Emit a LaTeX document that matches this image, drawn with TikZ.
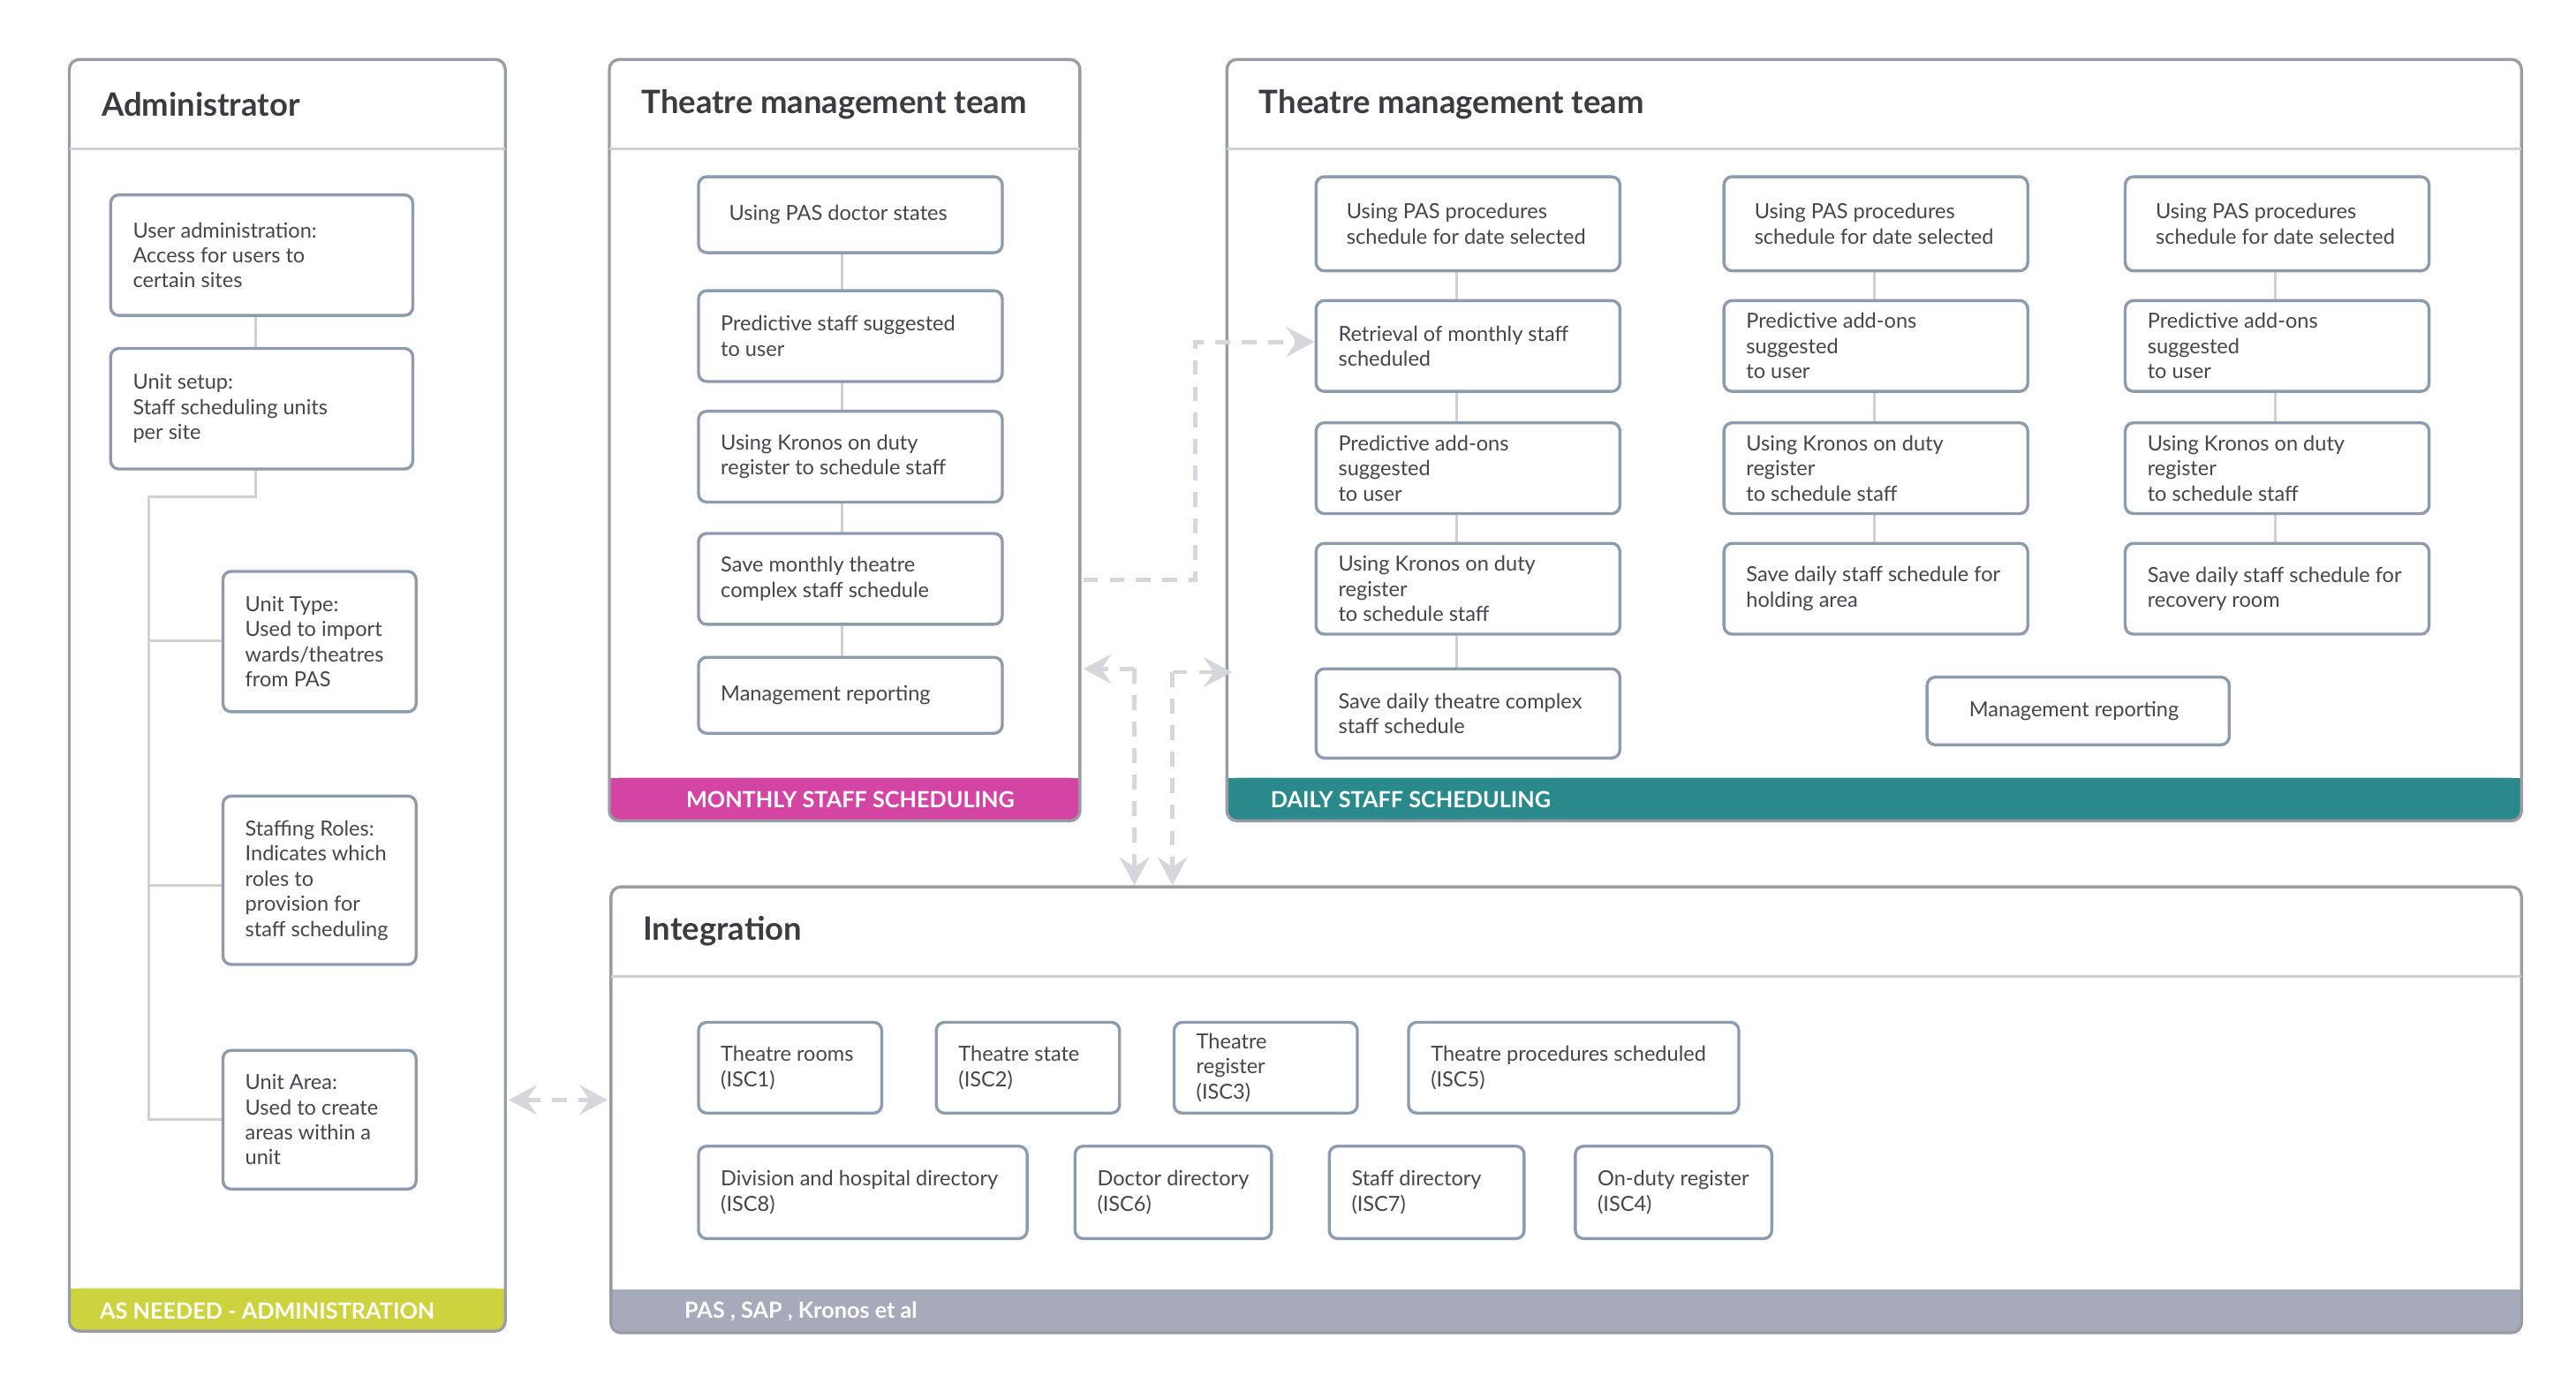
\documentclass[tikz,border=0pt]{standalone}
\usepackage{fontspec}
\setmainfont{Lato}
\usetikzlibrary{arrows.meta}
\definecolor{bxc}{HTML}{8C9BAE}
\definecolor{pan}{HTML}{9A9CA5}
\definecolor{txt}{HTML}{45464D}
\definecolor{dshc}{HTML}{D6D6DC}
\definecolor{lin}{HTML}{D0D1D6}
\definecolor{cyel}{HTML}{CCD33E}
\definecolor{cmag}{HTML}{D444A2}
\definecolor{ctea}{HTML}{2A898A}
\definecolor{cgry}{HTML}{A6AABA}
\tikzset{
 box/.style={draw=bxc,line width=1.8pt,rounded corners=5pt,fill=white,inner sep=0pt,text=txt,font=\fontsize{12.6}{15.2}\selectfont,align=left},
 conn/.style={lin,line width=1.6pt},
 dsh/.style={dshc,line width=2.6pt,dash pattern=on 9pt off 7pt},
 tip/.style={-{Stealth[length=17pt,width=18pt,inset=6pt]}},
 title/.style={anchor=west,font=\fontsize{19.5}{22}\selectfont\bfseries,text=txt!85!black},
 foot/.style={anchor=west,font=\fontsize{13.5}{15}\selectfont\bfseries,text=white},
}
\newcommand\bx[6]{%
 \pgfmathsetmacro\bw{#4-#2}\pgfmathsetmacro\bh{#5-#3}\pgfmathsetmacro\tw{#4-#2-27}%
 \node[box,minimum width=\bw pt,minimum height=\bh pt] (#1) at ({(#2+#4)/2},{(#3+#5)/2}) {\begin{minipage}{\tw pt}\raggedright #6\end{minipage}};}
\newcommand\panel[7]{% name x1 y1 x2 y2 color title
 \fill[#6,rounded corners=6pt] (#2,#5-26) rectangle (#4,#5);
 \fill[#6] (#2,#5-26) rectangle (#4,#5-16);
 \draw[pan,line width=1.8pt,rounded corners=6pt] (#2,#3) rectangle (#4,#5);
 \draw[lin,line width=1.6pt] (#2,#3+54) -- (#4,#3+54);
 \node[title] (#1) at (#2+16,#3+27) {#7};}
\begin{document}
\begin{tikzpicture}[x=1pt,y=-1pt]
\useasboundingbox (0,0) rectangle (1560,838);
% panels
\panel{pA}{42}{36}{306}{806}{cyel}{Administrator}
\node[foot] (fA) at (57,794) {AS NEEDED - ADMINISTRATION};
\panel{pB}{369}{36}{654}{497}{cmag}{Theatre management team}
\node[foot] (fB) at (412,484) {MONTHLY STAFF SCHEDULING};
\panel{pC}{743}{36}{1527}{497}{ctea}{Theatre management team}
\node[foot] (fC) at (766,484) {DAILY STAFF SCHEDULING};
\panel{pD}{370}{537}{1527}{807}{cgry}{Integration}
\node[foot] (fD) at (411,794) {PAS , SAP , Kronos et al};
% admin connectors
\coordinate (t0) at (155,301);
\coordinate (t1) at (90,301);
\coordinate (t2) at (90,388);
\coordinate (t3) at (90,536);
\coordinate (t4) at (90,678);
\draw[conn] (155,191) -- (155,211);
\draw[conn] (155,284) -- (t0) -- (t1) -- (t4) -- (135,678);
\draw[conn] (t2) -- (135,388);
\draw[conn] (t3) -- (135,536);
\draw[conn] (510,153) -- (510,398);
\draw[conn] (882,164) -- (882,405);
\draw[conn] (1135,164) -- (1135,329);
\draw[conn] (1378,164) -- (1378,329);
% admin boxes
\bx{a1}{67}{118}{250}{191}{User administration:\\Access for users to\\certain sites}
\bx{a2}{67}{211}{250}{284}{Unit setup:\\Staff scheduling units\\per site}
\bx{a3}{135}{346}{252}{431}{Unit Type:\\Used to import\\wards/theatres\\from PAS}
\bx{a4}{135}{482}{252}{584}{Staffing Roles:\\Indicates which\\roles to\\provision for\\staff scheduling}
\bx{a5}{135}{636}{252}{720}{Unit Area:\\Used to create\\areas within a\\unit}
% monthly
\bx{b1}{423}{107}{607}{153}{\hspace*{5pt}Using PAS doctor states}
\bx{b2}{423}{176}{607}{231}{Predictive staff suggested\\to user}
\bx{b3}{423}{249}{607}{304}{Using Kronos on duty\\register to schedule staff}
\bx{b4}{423}{323}{607}{378}{Save monthly theatre\\complex staff schedule}
\bx{b5}{423}{398}{607}{444}{Management reporting}
% daily
\bx{c1}{797}{107}{981}{164}{\hspace*{5pt}Using PAS procedures\\\hspace*{5pt}schedule for date selected}
\bx{c2}{797}{182}{981}{237}{Retrieval of monthly staff\\scheduled}
\bx{c3}{797}{256}{981}{311}{Predictive add-ons suggested\\to user}
\bx{c4}{797}{329}{981}{384}{Using Kronos on duty register\\to schedule staff}
\bx{c5}{797}{405}{981}{459}{Save daily theatre complex\\staff schedule}
\bx{d1}{1044}{107}{1228}{164}{\hspace*{5pt}Using PAS procedures\\\hspace*{5pt}schedule for date selected}
\bx{d2}{1044}{182}{1228}{237}{Predictive add-ons suggested\\to user}
\bx{d3}{1044}{256}{1228}{311}{Using Kronos on duty register\\to schedule staff}
\bx{d4}{1044}{329}{1228}{384}{Save daily staff schedule for\\holding area}
\bx{e1}{1287}{107}{1471}{164}{\hspace*{5pt}Using PAS procedures\\\hspace*{5pt}schedule for date selected}
\bx{e2}{1287}{182}{1471}{237}{Predictive add-ons suggested\\to user}
\bx{e3}{1287}{256}{1471}{311}{Using Kronos on duty register\\to schedule staff}
\bx{e4}{1287}{329}{1471}{384}{Save daily staff schedule for\\recovery room}
\bx{mr}{1167}{410}{1350}{451}{\hspace*{12pt}Management reporting}
% integration
\bx{i1}{423}{619}{534}{674}{Theatre rooms\\(ISC1)}
\bx{i2}{567}{619}{678}{674}{Theatre state\\(ISC2)}
\bx{i3}{711}{619}{822}{674}{Theatre register\\(ISC3)}
\bx{i4}{853}{619}{1053}{674}{Theatre procedures scheduled\\(ISC5)}
\bx{i5}{423}{694}{622}{750}{Division and hospital directory\\(ISC8)}
\bx{i6}{651}{694}{770}{750}{Doctor directory\\(ISC6)}
\bx{i7}{805}{694}{923}{750}{Staff directory\\(ISC7)}
\bx{i8}{954}{694}{1073}{750}{On-duty register\\(ISC4)}
% dashed arrows
\coordinate (m0) at (656,351);
\coordinate (m1) at (724,351);
\coordinate (m2) at (724,207);
\coordinate (m3) at (796,207);
\draw[dsh,tip] (m0) -- (m1) -- (m2) -- (m3);
\coordinate (n0) at (687,405);
\coordinate (n1) at (656,405);
\coordinate (n2) at (687,536);
\draw[dsh,tip] (n0) -- (n1);
\draw[dsh,tip] (n0) -- (n2);
\coordinate (o0) at (710,407);
\coordinate (o1) at (746,407);
\coordinate (o2) at (710,536);
\draw[dsh,tip] (o0) -- (o1);
\draw[dsh,tip] (o0) -- (o2);
\coordinate (p0) at (308,666);
\coordinate (p1) at (368,666);
\draw[dsh,{Stealth[length=17pt,width=18pt,inset=6pt]}-{Stealth[length=17pt,width=18pt,inset=6pt]}] (p0) -- (p1);
\end{tikzpicture}
\end{document}
